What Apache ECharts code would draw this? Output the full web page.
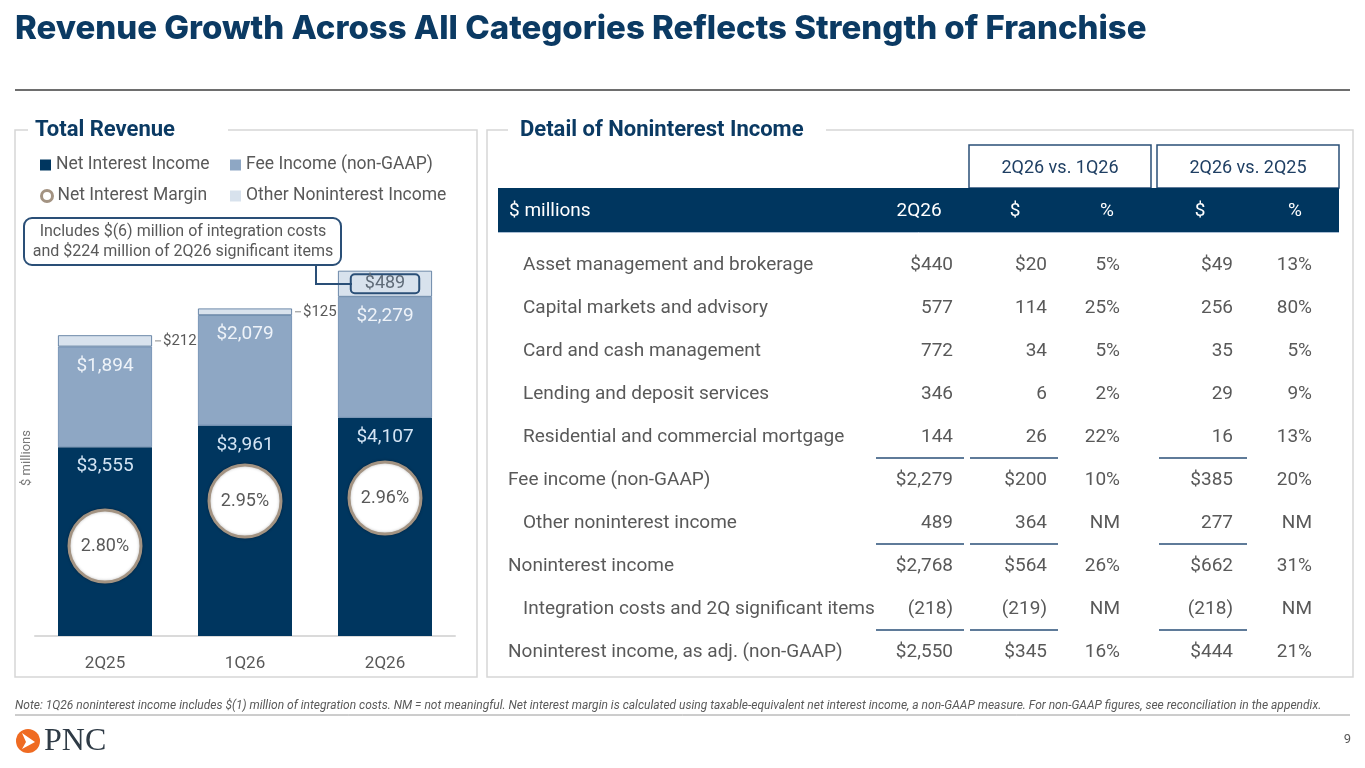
<!DOCTYPE html>
<html lang="en">
<head>
    <meta charset="UTF-8">
    <title>Revenue Growth Across All Categories</title>
    <script src="https://cdn.jsdelivr.net/npm/echarts@6/dist/echarts.min.js"></script>
    <style type="text/css">
        html, body { margin: 0; padding: 0; background: #fff; }
        #main { width: 1365px; height: 768px; }
    </style>
</head>
<body>
<div id="main"></div>
<script type="application/javascript">
    // chart data
    var quarters = ['2Q25', '1Q26', '2Q26'];
    var netInterestIncome = [3555, 3961, 4107];
    var feeIncome = [1894, 2079, 2279];
    var otherNoninterest = [212, 125, 489];
    var totalRevenue = [5661, 6165, 6875];
    var netInterestMargin = [2.80, 2.95, 2.96];

    // table data
    var rowLabels = [
        'Asset management and brokerage',
        'Capital markets and advisory',
        'Card and cash management',
        'Lending and deposit services',
        'Residential and commercial mortgage',
        'Fee income (non-GAAP)',
        'Other noninterest income',
        'Noninterest income',
        'Integration costs and 2Q significant items',
        'Noninterest income, as adj. (non-GAAP)'
    ];
    var rowIndent = [1, 1, 1, 1, 1, 0, 1, 0, 1, 0];
    var col2Q26 = ['$440', '577', '772', '346', '144', '$2,279', '489', '$2,768', '(218)', '$2,550'];
    var chgVs1Q26 = ['$20', '114', '34', '6', '26', '$200', '364', '$564', '(219)', '$345'];
    var pctVs1Q26 = ['5%', '25%', '5%', '2%', '22%', '10%', 'NM', '26%', 'NM', '16%'];
    var chgVs2Q25 = ['$49', '256', '35', '29', '16', '$385', '277', '$662', '(218)', '$444'];
    var pctVs2Q25 = ['13%', '80%', '5%', '9%', '13%', '20%', 'NM', '31%', 'NM', '21%'];
    var tableHeaders = ['2Q26', '$', '%', '$', '%'];
    var underlineAfter = [4, 6, 8];

    var NAVY = '#00365f';
    var TEXT = '#595959';
    var FONT = 'Roboto, "Noto Sans", sans-serif';

    function money(v) {
        return '$' + v.toLocaleString('en-US');
    }

    var myChart = echarts.init(document.getElementById('main'));

    // ---- graphic: slide frame, panels, table ----
    var g = [];
    function txt(x, y, s, size, color, opt) {
        opt = opt || {};
        g.push({
            type: 'text', x: x, y: y, z: opt.z || 5, rotation: opt.rotation || 0,
            style: {
                text: s, fill: color, align: opt.align || 'left', verticalAlign: 'middle',
                font: (opt.style || '') + ' ' + (opt.weight || 'normal') + ' ' + size + 'px ' + (opt.family || FONT)
            }
        });
    }
    function line(x1, y1, x2, y2, color, w, z) {
        g.push({ type: 'line', z: z || 5, shape: { x1: x1, y1: y1, x2: x2, y2: y2 },
            style: { stroke: color, lineWidth: w } });
    }

    txt(15, 29, 'Revenue Growth Across All Categories Reflects Strength of Franchise', 33, '#0b3a63',
        { weight: '800', family: 'Inter, sans-serif' });
    line(15, 90, 1350, 90, '#6e6e6e', 2);

    // left panel
    g.push({ type: 'rect', z: 1, shape: { x: 15, y: 130, width: 462, height: 547 },
        style: { fill: 'none', stroke: '#d6d6d6', lineWidth: 1.5 } });
    g.push({ type: 'rect', z: 2, shape: { x: 28, y: 122, width: 200, height: 16 }, style: { fill: '#fff' } });
    txt(35, 130, 'Total Revenue', 22, '#0b3a63', { weight: 'bold' });

    // right panel
    g.push({ type: 'rect', z: 1, shape: { x: 487, y: 130, width: 866, height: 547 },
        style: { fill: 'none', stroke: '#d6d6d6', lineWidth: 1.5 } });
    g.push({ type: 'rect', z: 2, shape: { x: 508, y: 122, width: 318, height: 16 }, style: { fill: '#fff' } });
    txt(520, 130, 'Detail of Noninterest Income', 22, '#0b3a63', { weight: 'bold' });

    // callout
    g.push({ type: 'rect', z: 5, shape: { x: 24, y: 218, width: 317, height: 47, r: 8 },
        style: { fill: '#fff', stroke: '#2a4f77', lineWidth: 2 } });
    txt(183, 232, 'Includes $(6) million of integration costs', 16, TEXT, { align: 'center' });
    txt(183, 252, 'and $224 million of 2Q26 significant items', 16, TEXT, { align: 'center' });
    g.push({ type: 'polyline', z: 20, shape: { points: [[316, 265], [316, 284], [352, 284]] },
        style: { stroke: '#2a4f77', lineWidth: 2, fill: null } });

    txt(27, 458, '$ millions', 13, '#777', { align: 'center', rotation: Math.PI / 2 });

    // table header
    g.push({ type: 'rect', z: 3, shape: { x: 969, y: 145, width: 182, height: 43 },
        style: { fill: '#fff', stroke: '#2a4f77', lineWidth: 1.5 } });
    g.push({ type: 'rect', z: 3, shape: { x: 1157, y: 145, width: 182, height: 43 },
        style: { fill: '#fff', stroke: '#2a4f77', lineWidth: 1.5 } });
    txt(1060, 168, '2Q26 vs. 1Q26', 18, '#1f3f63', { align: 'center' });
    txt(1248, 168, '2Q26 vs. 2Q25', 18, '#1f3f63', { align: 'center' });
    g.push({ type: 'rect', z: 4, shape: { x: 498, y: 188, width: 841, height: 44 }, style: { fill: NAVY } });
    line(498, 232.5, 1339, 232.5, '#a9bdd3', 1);
    txt(509, 211, '$ millions', 19, '#fff');
    var headerCenters = [919, 1015, 1107, 1200, 1295];
    tableHeaders.forEach(function (h, i) {
        txt(headerCenters[i], 211, h, 19, '#fff', { align: 'center' });
    });

    // table body
    var colRights = [953, 1047, 1120, 1233, 1312];
    var cols = [col2Q26, chgVs1Q26, pctVs1Q26, chgVs2Q25, pctVs2Q25];
    rowLabels.forEach(function (label, r) {
        var y = 265 + 43 * r;
        txt(rowIndent[r] ? 523 : 508, y, label, 19, TEXT);
        cols.forEach(function (col, c) {
            txt(colRights[c], y, col[r], 19, TEXT, { align: 'right' });
        });
    });
    underlineAfter.forEach(function (r) {
        var y = 265 + 43 * r + 21;
        line(876, y, 964, y, '#2a4f77', 1.5);
        line(970, y, 1058, y, '#2a4f77', 1.5);
        line(1159, y, 1247, y, '#2a4f77', 1.5);
    });

    // footer
    txt(15, 706, 'Note: 1Q26 noninterest income includes $(1) million of integration costs. NM = not meaningful. Net interest margin is calculated using taxable-equivalent net interest income, a non-GAAP measure. For non-GAAP figures, see reconciliation in the appendix.',
        12, TEXT, { style: 'italic' });
    line(15, 715, 1350, 715, '#9a9a9a', 1);
    g.push({ type: 'circle', z: 5, shape: { cx: 28, cy: 741, r: 12 }, style: { fill: '#ef6b22' } });
    g.push({ type: 'polygon', z: 6, shape: { points: [[22, 733], [35, 742], [22, 749], [26, 742]] },
        style: { fill: '#fff' } });
    txt(44, 742, 'PNC', 32, '#2f3b46', { family: '"Liberation Serif", serif' });
    txt(1351, 740, '9', 13, TEXT, { align: 'right' });

    // ---- chart ----
    var legendText = { fontSize: 17.5, color: TEXT, fontFamily: FONT };
    function oneLegend(left, top, item) {
        return {
            left: left, top: top, selectedMode: false, itemWidth: 11, itemHeight: 11,
            textStyle: legendText, data: [item]
        };
    }

    myChart.setOption({
        animation: false,
        textStyle: { fontFamily: FONT },
        legend: [
            oneLegend(35, 151, { name: 'Net Interest Income', icon: 'rect', itemStyle: { color: NAVY, borderWidth: 0 } }),
            oneLegend(225, 151, { name: 'Fee Income (non-GAAP)', icon: 'rect', itemStyle: { color: '#8ea7c4', borderWidth: 0 } }),
            oneLegend(35, 182, { name: 'Net Interest Margin', icon: 'circle',
                itemStyle: { color: '#fff', borderColor: '#a39382', borderWidth: 3 } }),
            oneLegend(225, 182, { name: 'Other Noninterest Income', icon: 'rect', itemStyle: { color: '#d8e2ed', borderWidth: 0 } })
        ],
        grid: { left: 35, right: 910, top: 211, bottom: 132 },
        xAxis: {
            type: 'category',
            data: quarters,
            axisLine: { lineStyle: { color: '#dadada', width: 2 } },
            axisTick: { show: false },
            axisLabel: { fontSize: 17, color: TEXT, margin: 19 }
        },
        yAxis: [
            { type: 'value', min: 0, max: 8000, show: false },
            { type: 'value', min: 2.5, max: 2.5 + 425 / 300, show: false }
        ],
        graphic: g,
        series: [
            {
                name: 'Net Interest Income', type: 'bar', stack: 'rev', barWidth: 94,
                data: netInterestIncome,
                itemStyle: { color: NAVY },
                label: { show: true, position: 'insideTop', distance: 10, fontSize: 19, color: '#d3e4f4',
                    formatter: function (p) { return money(p.value); } }
            },
            {
                name: 'Fee Income (non-GAAP)', type: 'bar', stack: 'rev',
                data: feeIncome,
                itemStyle: { color: '#8ea7c4', borderColor: '#6a89ad', borderWidth: 0.8 },
                label: { show: true, position: 'insideTop', distance: 10, fontSize: 19, color: '#eef3f9',
                    formatter: function (p) { return money(p.value); } }
            },
            {
                name: 'Other Noninterest Income', type: 'bar', stack: 'rev',
                itemStyle: { color: '#d8e2ed', borderColor: '#4d6f95', borderWidth: 0.8 },
                data: otherNoninterest.map(function (v, i) {
                    if (i < 2) {
                        return {
                            value: v,
                            label: {
                                show: true, position: 'right', distance: 3,
                                formatter: '{d|}{v|' + money(v) + '}',
                                rich: {
                                    d: { width: 6, height: 1, backgroundColor: '#8a8a8a' },
                                    v: { fontSize: 15, color: TEXT, padding: [0, 0, 0, 2] }
                                }
                            }
                        };
                    }
                    return {
                        value: v,
                        label: {
                            show: true, position: 'inside', fontSize: 18, color: '#5f6b78',
                            borderColor: '#2a4f77', borderWidth: 2, borderRadius: 4,
                            padding: [1, 14, 0, 14], formatter: money(v)
                        }
                    };
                })
            },
            {
                name: 'Total', type: 'line', data: totalRevenue, silent: true,
                symbol: 'circle', symbolSize: 1, itemStyle: { opacity: 0 },
                lineStyle: { opacity: 0 }, z: 6,
                label: { show: true, position: 'top', distance: 6, fontSize: 19, color: TEXT,
                    formatter: function (p) { return money(p.value); } }
            },
            {
                name: 'Net Interest Margin', type: 'line', yAxisIndex: 1, data: netInterestMargin,
                symbol: 'circle', symbolSize: 72, z: 8,
                lineStyle: { opacity: 0 },
                itemStyle: { color: '#fff', borderColor: '#a39382', borderWidth: 3,
                    shadowBlur: 3, shadowColor: 'rgba(0,0,0,0.25)' },
                label: { show: true, position: 'inside', fontSize: 18, color: TEXT,
                    formatter: function (p) { return p.value.toFixed(2) + '%'; } }
            }
        ]
    });
</script>
</body>
</html>
